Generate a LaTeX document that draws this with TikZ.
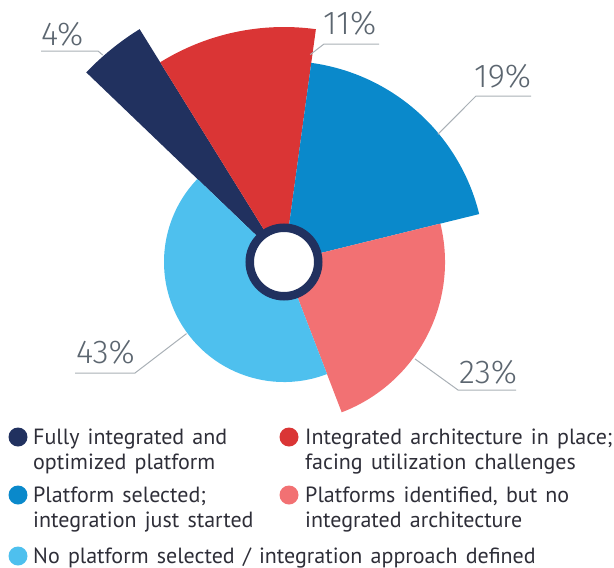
\documentclass[tikz,border=0pt]{standalone}
\usepackage{fontspec}
\setmainfont{PT Sans}[WordSpace=1.4]
\IfFontExistsTF{Fira Sans Light}{\newfontfamily\lblfont{Fira Sans Light}}{\newfontfamily\lblfont{Fira Sans}}
\definecolor{cnavy}{HTML}{21315F}
\definecolor{cred}{HTML}{DA3535}
\definecolor{cblue}{HTML}{0A89CB}
\definecolor{csalmon}{HTML}{F27173}
\definecolor{clight}{HTML}{4EC0EE}
\definecolor{cgrayline}{HTML}{A9B0B6}
\definecolor{clbl}{HTML}{5C6670}
\definecolor{ctext}{HTML}{2E2E38}
\tikzset{
  leader/.style={draw=cgrayline, line width=1pt},
  lbl/.style={inner sep=0pt, text=clbl, font=\lblfont\fontsize{33}{33}\selectfont, anchor=base west},
  legdot/.style={circle, inner sep=0pt, minimum size=19pt},
  legtxt/.style={inner sep=0pt, text=ctext, align=left, anchor=base west, font=\fontsize{22}{25}\selectfont}
}
\begin{document}
\begin{tikzpicture}[x=1pt,y=1pt]
\useasboundingbox (0,0) rectangle (614,-568);
\coordinate (C) at (284,-262);
% slices
\fill[cnavy]   (C) -- ++(136.2:274pt) arc[start angle=136.2, end angle=121.8, radius=274pt] -- cycle;
\fill[cred]    (C) -- ++(121.8:235pt) arc[start angle=121.8, end angle=82.2, radius=235pt] -- cycle;
\fill[cblue]   (C) -- ++(82.2:201pt) arc[start angle=82.2, end angle=13.8, radius=201pt] -- cycle;
\fill[csalmon] (C) -- ++(13.8:161pt) arc[start angle=13.8, end angle=-69, radius=161pt] -- cycle;
\fill[clight]  (C) -- ++(-69:120pt) arc[start angle=-69, end angle=-223.8, radius=120pt] -- cycle;
% hub
\node[circle, draw=cnavy, line width=8.5pt, fill=white, minimum size=68.5pt, inner sep=0pt] (hub) at (C) {};
% labels
\node[lbl] (l4)  at (41,-45)  {4\%};
\node[lbl] (l11) at (323,-34) {11\%};
\node[lbl] (l19) at (474,-87) {19\%};
\node[lbl] (l23) at (459,-383) {23\%};
\node[lbl] (l43) at (76,-363) {43\%};
% leader points
\path (C) ++(131.2:275pt) coordinate (e4);
\path (C) ++(82.8:209pt) coordinate (e11);
\path (C) ++(39.7:200pt) coordinate (e19);
\path (C) ++(-36.5:163pt) coordinate (e23);
\path (C) ++(216.3:121pt) coordinate (e43);
\coordinate (k4) at (98,-51);   \coordinate (h4) at (41,-51);
\coordinate (k11) at (324,-44); \coordinate (h11) at (379,-44);
\coordinate (k19) at (476,-96); \coordinate (h19) at (531,-96);
\coordinate (k23) at (458,-390); \coordinate (h23) at (516,-390);
\coordinate (k43) at (135,-373); \coordinate (h43) at (75,-373);
\draw[leader] (e4) -- (k4) -- (h4);
\draw[leader] (e11) -- (k11) -- (h11);
\draw[leader] (e19) -- (k19) -- (h19);
\draw[leader] (e23) -- (k23) -- (h23);
\draw[leader] (e43) -- (k43) -- (h43);
% legend
\node[legdot, fill=cnavy]   (d1) at (18,-437) {};
\node[legtxt] (t1) at (33,-469) {Fully integrated and\\optimized platform};
\node[legdot, fill=cred]    (d2) at (289,-437) {};
\node[legtxt] (t2) at (305,-469) {Integrated architecture in place;\\facing utilization challenges};
\node[legdot, fill=cblue]   (d3) at (18,-495) {};
\node[legtxt] (t3) at (33,-527) {Platform selected;\\integration just started};
\node[legdot, fill=csalmon] (d4) at (289,-495) {};
\node[legtxt] (t4) at (305,-527) {Platforms identified, but no\\integrated architecture};
\node[legdot, fill=clight]  (d5) at (18,-556) {};
\node[legtxt] (t5) at (33,-563) {No platform selected / integration approach defined};
\end{tikzpicture}
\end{document}
